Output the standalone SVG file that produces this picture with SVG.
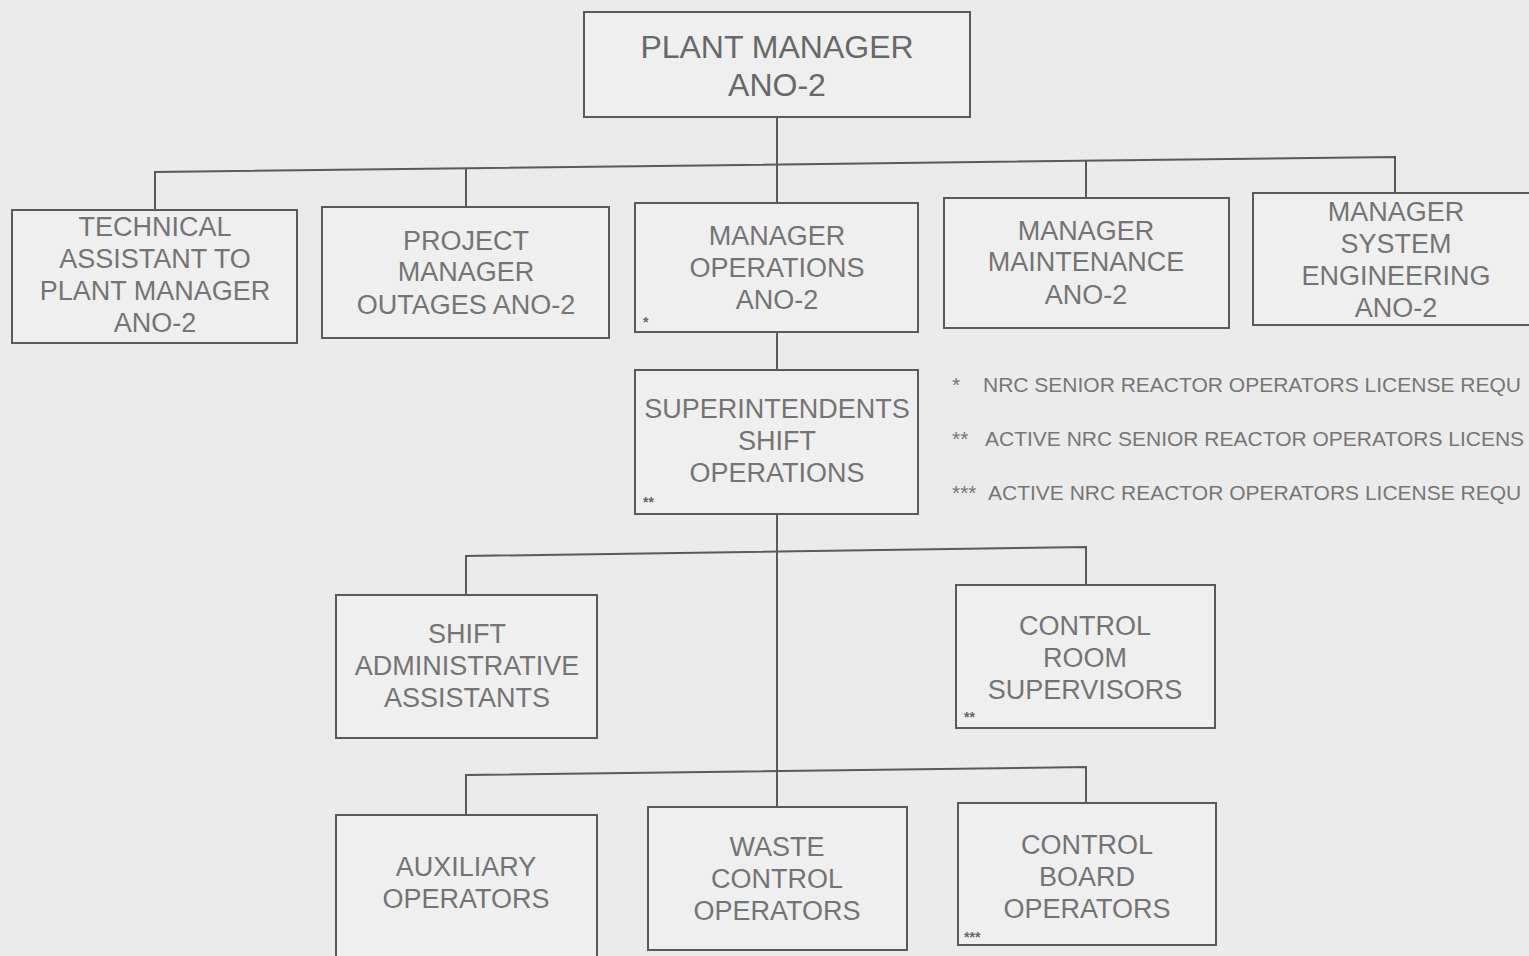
<svg xmlns="http://www.w3.org/2000/svg" width="1529" height="956" viewBox="0 0 1529 956">
<style>
.bg{fill:#ebebeb}
.box{fill:#efefef;stroke:#5a5a5a;stroke-width:2}
.ln{fill:none;stroke:#5a5a5a;stroke-width:2}
.t{font-family:"Liberation Sans",Arial,sans-serif;font-size:27px;fill:#747474;text-anchor:middle;dominant-baseline:central}
.big{font-size:32px;fill:#686868}
.m{font-family:"Liberation Sans",Arial,sans-serif;font-size:14px;fill:#666;font-weight:bold}
.lg{font-family:"Liberation Sans",Arial,sans-serif;font-size:21px;fill:#767676;dominant-baseline:central}
</style>
<rect class="bg" x="0" y="0" width="1529" height="956"/>
<g id="connectors">
<line class="ln" x1="777" y1="117" x2="777" y2="164"/>
<polyline class="ln" points="155,210 155,172 1395,157 1395,193"/>
<line class="ln" x1="466" y1="168" x2="466" y2="207"/>
<line class="ln" x1="777" y1="164" x2="777" y2="203"/>
<line class="ln" x1="1086" y1="161" x2="1086" y2="198"/>
<line class="ln" x1="777" y1="332" x2="777" y2="370"/>
<line class="ln" x1="777" y1="514" x2="777" y2="807"/>
<polyline class="ln" points="466,595 466,556 1086,547 1086,585"/>
<polyline class="ln" points="466,815 466,775 1086,767 1086,803"/>
</g>
<g id="plant-manager">
<rect class="box" x="584" y="12" width="386" height="105"/>
<text class="t big" x="777" y="47">PLANT MANAGER</text>
<text class="t big" x="777" y="85">ANO-2</text>
</g>
<g id="technical-assistant">
<rect class="box" x="12" y="210" width="285" height="133"/>
<text class="t" x="155" y="227">TECHNICAL</text>
<text class="t" x="155" y="259">ASSISTANT TO</text>
<text class="t" x="155" y="291">PLANT MANAGER</text>
<text class="t" x="155" y="323">ANO-2</text>
</g>
<g id="project-manager">
<rect class="box" x="322" y="207" width="287" height="131"/>
<text class="t" x="466" y="241">PROJECT</text>
<text class="t" x="466" y="272">MANAGER</text>
<text class="t" x="466" y="305">OUTAGES ANO-2</text>
</g>
<g id="manager-operations">
<rect class="box" x="635" y="203" width="283" height="129"/>
<text class="t" x="777" y="236">MANAGER</text>
<text class="t" x="777" y="268">OPERATIONS</text>
<text class="t" x="777" y="300">ANO-2</text>
<text class="m" x="643" y="327">*</text>
</g>
<g id="manager-maintenance">
<rect class="box" x="944" y="198" width="285" height="130"/>
<text class="t" x="1086" y="231">MANAGER</text>
<text class="t" x="1086" y="262">MAINTENANCE</text>
<text class="t" x="1086" y="295">ANO-2</text>
</g>
<g id="manager-system-engineering">
<rect class="box" x="1253" y="193" width="290" height="132"/>
<text class="t" x="1396" y="212">MANAGER</text>
<text class="t" x="1396" y="244">SYSTEM</text>
<text class="t" x="1396" y="276">ENGINEERING</text>
<text class="t" x="1396" y="308">ANO-2</text>
</g>
<g id="superintendents">
<rect class="box" x="635" y="370" width="283" height="144"/>
<text class="t" x="777" y="409">SUPERINTENDENTS</text>
<text class="t" x="777" y="441">SHIFT</text>
<text class="t" x="777" y="473">OPERATIONS</text>
<text class="m" x="643" y="507">**</text>
</g>
<g id="shift-admin">
<rect class="box" x="336" y="595" width="261" height="143"/>
<text class="t" x="467" y="634">SHIFT</text>
<text class="t" x="467" y="666">ADMINISTRATIVE</text>
<text class="t" x="467" y="698">ASSISTANTS</text>
</g>
<g id="control-room">
<rect class="box" x="956" y="585" width="259" height="143"/>
<text class="t" x="1085" y="626">CONTROL</text>
<text class="t" x="1085" y="658">ROOM</text>
<text class="t" x="1085" y="690">SUPERVISORS</text>
<text class="m" x="964" y="722">**</text>
</g>
<g id="auxiliary">
<rect class="box" x="336" y="815" width="261" height="145"/>
<text class="t" x="466" y="867">AUXILIARY</text>
<text class="t" x="466" y="899">OPERATORS</text>
</g>
<g id="waste-control">
<rect class="box" x="648" y="807" width="259" height="143"/>
<text class="t" x="777" y="847">WASTE</text>
<text class="t" x="777" y="879">CONTROL</text>
<text class="t" x="777" y="911">OPERATORS</text>
</g>
<g id="control-board">
<rect class="box" x="958" y="803" width="258" height="142"/>
<text class="t" x="1087" y="845">CONTROL</text>
<text class="t" x="1087" y="877">BOARD</text>
<text class="t" x="1087" y="909">OPERATORS</text>
<text class="m" x="964" y="942">***</text>
</g>
<g id="legend">
<text class="lg" x="952" y="384">*</text>
<text class="lg" x="983" y="384">NRC SENIOR REACTOR OPERATORS LICENSE REQU</text>
<text class="lg" x="952" y="438">**</text>
<text class="lg" x="985" y="438">ACTIVE NRC SENIOR REACTOR OPERATORS LICENS</text>
<text class="lg" x="952" y="492">***</text>
<text class="lg" x="988" y="492">ACTIVE NRC REACTOR OPERATORS LICENSE REQU</text>
</g>
</svg>
